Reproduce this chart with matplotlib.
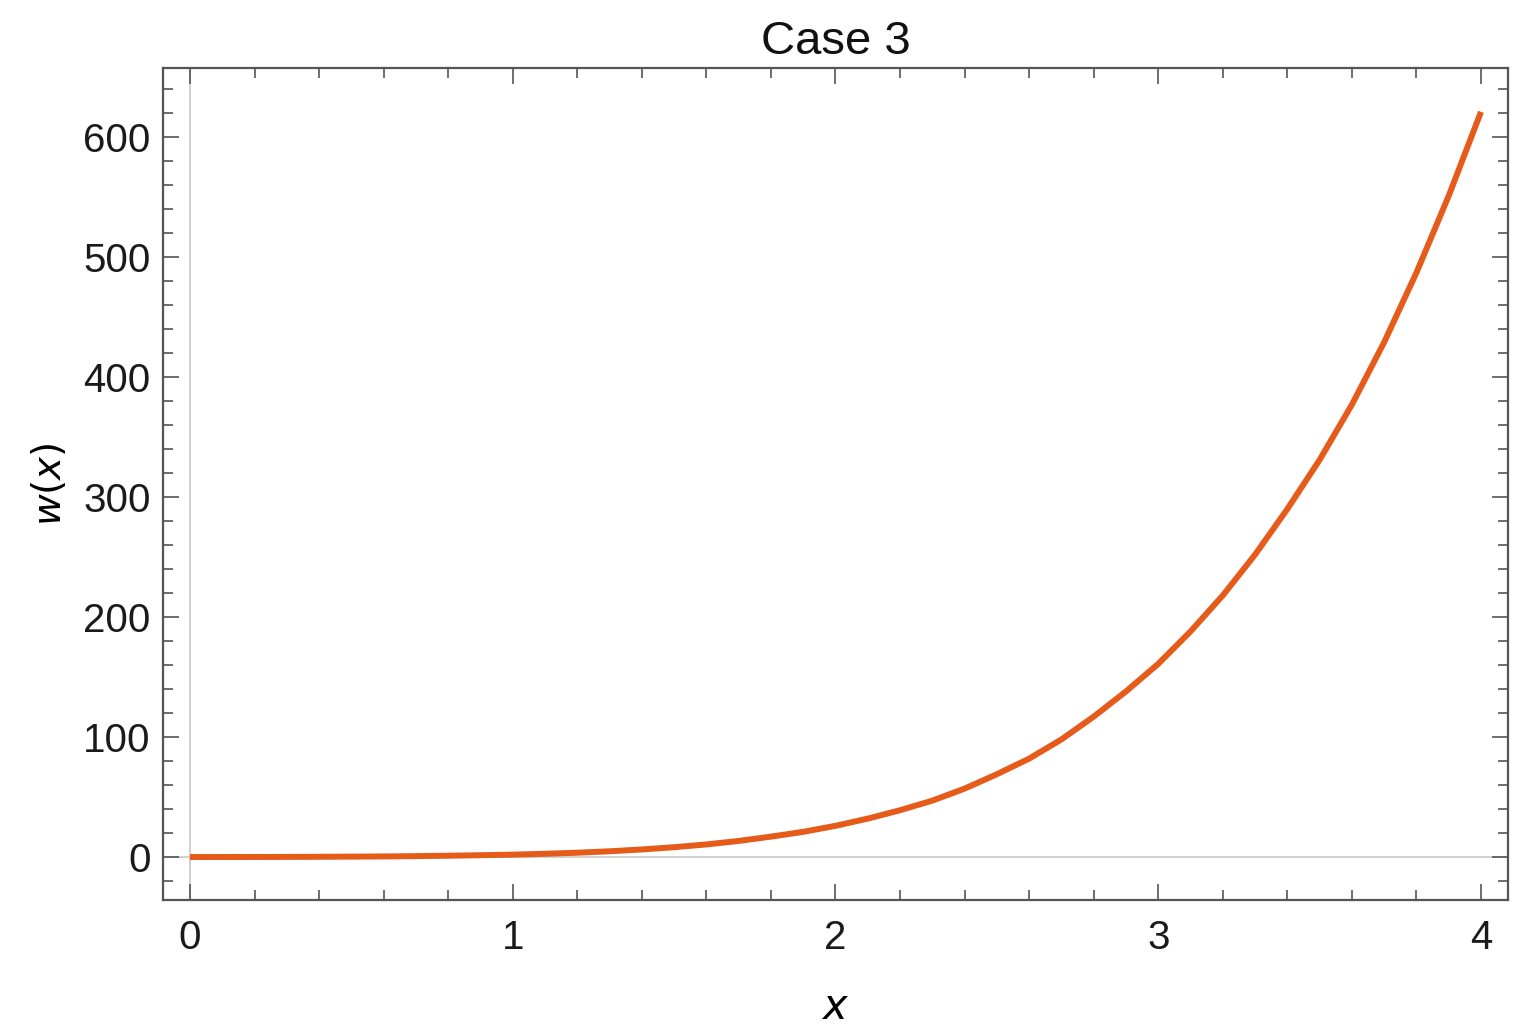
import numpy as np
import matplotlib
matplotlib.use('Agg')
import matplotlib.pyplot as plt
from matplotlib.ticker import MultipleLocator

# values, every 0.1 in x
x_vals = [0.0, 0.1, 0.2, 0.3, 0.4, 0.5, 0.6, 0.7, 0.8, 0.9, 1.0,
          1.1, 1.2, 1.3, 1.4, 1.5, 1.6, 1.7, 1.8, 1.9, 2.0,
          2.1, 2.2, 2.3, 2.4, 2.5, 2.6, 2.7, 2.8, 2.9, 3.0,
          3.1, 3.2, 3.3, 3.4, 3.5, 3.6, 3.7, 3.8, 3.9, 4.0]
w_vals = [0.0, 0.02, 0.05, 0.1, 0.2, 0.35, 0.5, 0.75, 1.1, 1.5, 2.0,
          2.7, 3.6, 4.8, 6.3, 8.2, 10.5, 13.4, 17.0, 21.0, 26.0,
          32.0, 39.0, 47.0, 57.0, 69.0, 82.0, 98.0, 117.0, 138.0, 161.0,
          188.0, 218.0, 252.0, 290.0, 331.0, 377.0, 429.0, 487.0, 551.0, 621.0]

x_ticks = [0, 1, 2, 3, 4]
y_ticks = [0, 100, 200, 300, 400, 500, 600]

plt.rcParams['font.family'] = ['Liberation Sans', 'DejaVu Sans']

fig = plt.figure(figsize=(15.33, 10.34), dpi=100)
ax = fig.add_axes([0.1063, 0.1296, 0.8774, 0.8046])

# light axis lines through the origin
ax.axhline(0, color='#c8c8c8', lw=1.2, zorder=1)
ax.axvline(0, color='#c8c8c8', lw=1.2, zorder=1)

ax.plot(x_vals, w_vals, color='#e65a1a', lw=4.3, solid_capstyle='butt',
        solid_joinstyle='round', zorder=3)

ax.set_xlim(-0.0837, 4.0837)
ax.set_ylim(-35.8, 657.5)

ax.set_xticks(x_ticks)
ax.set_yticks(y_ticks)
ax.xaxis.set_minor_locator(MultipleLocator(0.2))
ax.yaxis.set_minor_locator(MultipleLocator(20))

frame_col = '#555555'
for s in ax.spines.values():
    s.set_color(frame_col)
    s.set_linewidth(1.6)

ax.tick_params(which='both', direction='in', top=True, right=True, color=frame_col, width=1.2)
ax.tick_params(which='major', length=11.5, labelsize=29, labelcolor='#1a1a1a')
ax.tick_params(which='minor', length=7.5)
ax.tick_params(axis='x', which='major', pad=14)
ax.tick_params(axis='y', which='major', pad=9)

ax.set_title('Case 3', fontsize=34, pad=10, color='#111111')
ax.set_xlabel('$x$', fontsize=30, labelpad=22)
ax.set_ylabel('$w(x)$', fontsize=28, labelpad=10)

fig.savefig('out.png', dpi=100)
